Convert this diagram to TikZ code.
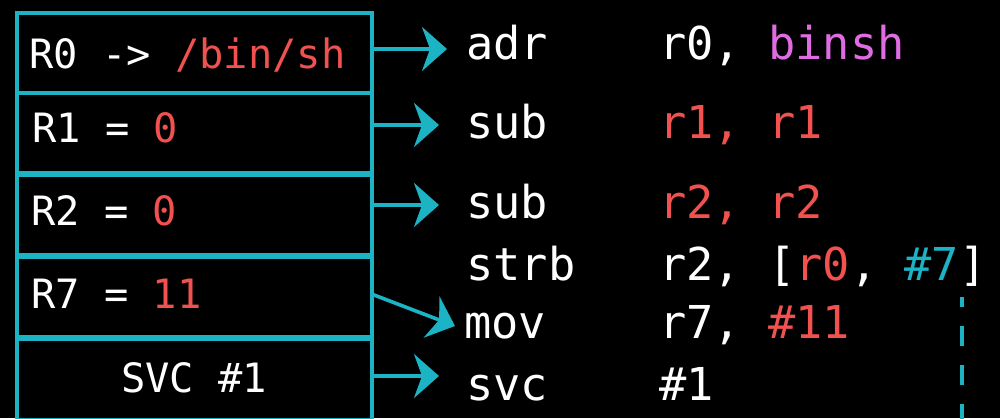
\documentclass[tikz,border=0pt]{standalone}
\usepackage{fontspec}
\usetikzlibrary{arrows.meta}
\newfontfamily\code{DejaVu Sans Mono}
\definecolor{cyanline}{HTML}{1CB4C5}
\definecolor{regred}{HTML}{F2524F}
\definecolor{symviolet}{HTML}{E06CE3}
\tikzset{
  regbox/.style={draw=cyanline, line width=3.6pt, minimum width=355pt, minimum height=80pt,
                 inner sep=0pt, anchor=north west},
  regtext/.style={text=white, inner sep=0pt, anchor=base west,
                  font=\code\fontsize{40.4}{44}\selectfont},
  asmtext/.style={text=white, inner sep=0pt, anchor=base west,
                  font=\code\fontsize{45.3}{50}\selectfont},
  link/.style={draw=cyanline, line width=3.6pt,
               -{Stealth[length=25pt, width=44pt, inset=8pt]}},
  guide/.style={draw=cyanline, line width=4pt, dash pattern=on 20pt off 19pt, dash phase=10pt}
}
\begin{document}
\begin{tikzpicture}[x=1pt, y=-1pt]
  % canvas
  \fill[black] (0,0) rectangle (1000,418);
  \useasboundingbox (0,0) rectangle (1000,418);

  % register set-up boxes
  \node[regbox] (r0)  at (15,11)  {};
  \node[regbox] (r1)  at (15,91)  {};
  \node[regbox] (r2)  at (15,173) {};
  \node[regbox] (r7)  at (15,255) {};
  \node[regbox, minimum height=81pt] (svc) at (15,337) {};

  \node[regtext] (r0t) at (29,68)  {R0 -> \textcolor{regred}{/bin/sh}};
  \node[regtext] (r1t) at (32,142) {R1 = \textcolor{regred}{0}};
  \node[regtext] (r2t) at (31,225) {R2 = \textcolor{regred}{0}};
  \node[regtext] (r7t) at (31,308) {R7 = \textcolor{regred}{11}};
  \node[regtext, anchor=base] (svct) at (194,392) {SVC \#1};

  % assembly listing
  \node[asmtext] (adr)  at (466,59)  {adr};
  \node[asmtext] (adro) at (659,59)  {r0, \textcolor{symviolet}{binsh}};
  \node[asmtext] (sub1) at (466,138) {sub};
  \node[asmtext] (sub1o) at (659,138) {\textcolor{regred}{r1, r1}};
  \node[asmtext] (sub2) at (466,218) {sub};
  \node[asmtext] (sub2o) at (659,218) {\textcolor{regred}{r2, r2}};
  \node[asmtext] (strb) at (466,280) {strb};
  \node[asmtext] (strbo) at (659,280) {r2, [\textcolor{regred}{r0}, \textcolor{cyanline}{\#7}]};
  \node[asmtext] (mov)  at (464,338) {mov};
  \node[asmtext] (movo) at (659,338) {r7, \textcolor{regred}{\#11}};
  \node[asmtext] (svci) at (466,400) {svc};
  \node[asmtext] (svco) at (659,400) {\#1};

  % arrow tips
  \coordinate (t0) at (447,49);
  \coordinate (t1) at (439,125);
  \coordinate (t2) at (439,205);
  \coordinate (t7) at (455,326);
  \coordinate (ts) at (439,376);

  \draw[link] (r0.east |- t0) -- (t0);
  \draw[link] (r1.east |- t1) -- (t1);
  \draw[link] (r2.east |- t2) -- (t2);
  \draw[link] ([yshift=2pt]r7.east) -- (t7);
  \draw[link] (svc.east |- ts) -- (ts);

  % offset marker under #7
  \coordinate (g0) at (962,297);
  \coordinate (g1) at (962,420);
  \draw[guide] (g0) -- (g1);
\end{tikzpicture}
\end{document}
